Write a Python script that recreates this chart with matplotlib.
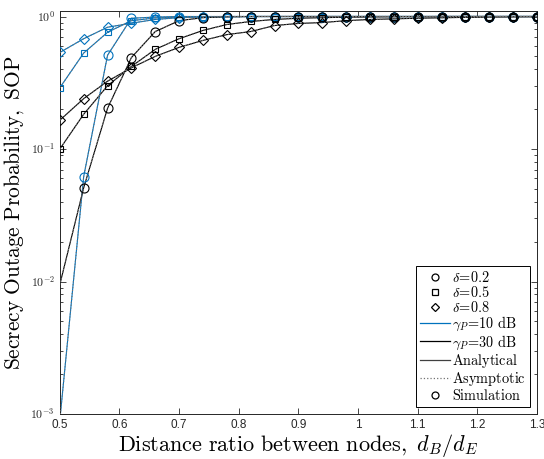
import numpy as np
import matplotlib
matplotlib.use("Agg")
import matplotlib.pyplot as plt
from matplotlib.lines import Line2D

plt.rcParams['mathtext.fontset'] = 'cm'
plt.rcParams['font.family'] = ['Liberation Sans', 'DejaVu Sans']

# distance ratio d_B/d_E
ratio = [0.50, 0.54, 0.58, 0.62, 0.66, 0.70, 0.74, 0.78, 0.82, 0.86, 0.90,
         0.94, 0.98, 1.02, 1.06, 1.10, 1.14, 1.18, 1.22, 1.26, 1.30]

# gamma_P = 10 dB (blue)
sop_10_d02 = [0.0009, 0.062, 0.51, 0.97, 0.99, 1.0, 1.0, 1.0, 1.0, 1.0, 1.0,
              1.0, 1.0, 1.0, 1.0, 1.0, 1.0, 1.0, 1.0, 1.0, 1.0]
sop_10_d05 = [0.29, 0.53, 0.76, 0.93, 0.975, 0.99, 0.997, 1.0, 1.0, 1.0, 1.0,
              1.0, 1.0, 1.0, 1.0, 1.0, 1.0, 1.0, 1.0, 1.0, 1.0]
sop_10_d08 = [0.535, 0.68, 0.83, 0.89, 0.95, 0.98, 0.99, 0.995, 1.0, 1.0, 1.0,
              1.0, 1.0, 1.0, 1.0, 1.0, 1.0, 1.0, 1.0, 1.0, 1.0]

# gamma_P = 30 dB (black)
sop_30_d02 = [0.0095, 0.051, 0.203, 0.49, 0.77, 0.93, 0.98, 0.995, 1.0, 1.0, 1.0,
              1.0, 1.0, 1.0, 1.0, 1.0, 1.0, 1.0, 1.0, 1.0, 1.0]
sop_30_d05 = [0.10, 0.183, 0.30, 0.42, 0.565, 0.68, 0.785, 0.87, 0.917, 0.95, 0.97,
              0.98, 0.988, 0.993, 0.996, 0.998, 1.0, 1.0, 1.0, 1.0, 1.0]
sop_30_d08 = [0.165, 0.24, 0.325, 0.41, 0.50, 0.585, 0.66, 0.73, 0.77, 0.855, 0.886,
              0.90, 0.93, 0.95, 0.96, 0.97, 0.978, 0.985, 0.99, 0.994, 0.997]

blue = '#0072BD'
# (values, colour, marker, first simulated point)
series = [
    (sop_10_d02, blue, 'o', 1), (sop_10_d05, blue, 's', 0), (sop_10_d08, blue, 'D', 0),
    (sop_30_d02, 'k', 'o', 1), (sop_30_d05, 'k', 's', 0), (sop_30_d08, 'k', 'D', 0),
]

fig = plt.figure(figsize=(5.44, 4.59), dpi=100)
ax = fig.add_axes([0.110, 0.098, 0.877, 0.878])

for vals, col, mk, start in series:
    ms = 6.5 if mk == 'o' else (4.3 if mk == 's' else 4.8)
    # analytical
    ax.plot(ratio, vals, '-', color=col, lw=0.8, zorder=2)
    # asymptotic
    ax.plot(ratio, vals, ':', color='0.45', lw=0.8, zorder=3)
    # simulation markers
    ax.plot(ratio[start:], vals[start:], linestyle='none', marker=mk, ms=ms,
            mfc='none', mec=col, mew=0.8, zorder=4)

ax.set_yscale('log')
ax.set_xlim(0.5, 1.3)
ax.set_ylim(1e-3, 1.1)
ax.set_xticks([0.5, 0.6, 0.7, 0.8, 0.9, 1.0, 1.1, 1.2, 1.3])
ax.set_xticklabels(['0.5', '0.6', '0.7', '0.8', '0.9', '1', '1.1', '1.2', '1.3'])
ax.set_yticks([1e-3, 1e-2, 1e-1, 1])
ax.set_yticklabels([r'$\mathsf{10^{-3}}$', r'$\mathsf{10^{-2}}$',
                    r'$\mathsf{10^{-1}}$', r'$\mathsf{10^{0}}$'])
ax.tick_params(which='both', direction='in', top=True, right=True,
               labelsize=8.5, colors='0.15', width=0.6)
ax.tick_params(which='major', length=4)
ax.tick_params(which='minor', length=2)
for s in ax.spines.values():
    s.set_linewidth(0.7)
    s.set_color('0.15')

ax.set_xlabel(r'$\mathrm{Distance\ ratio\ between\ nodes,}\ d_B/d_E$',
              fontsize=16, labelpad=1)
ax.set_ylabel(r'$\mathrm{Secrecy\ Outage\ Probability,\ SOP}$',
              fontsize=15.4, labelpad=3)

handles = [
    Line2D([], [], ls='none', marker='o', ms=5, mfc='none', mec='k', mew=0.9),
    Line2D([], [], ls='none', marker='s', ms=3.8, mfc='none', mec='k', mew=0.9),
    Line2D([], [], ls='none', marker='D', ms=4.3, mfc='none', mec='k', mew=0.9),
    Line2D([], [], color=blue, lw=0.9),
    Line2D([], [], color='k', lw=0.9),
    Line2D([], [], color='0.25', lw=0.9),
    Line2D([], [], color='0.45', lw=0.9, ls=':'),
    Line2D([], [], ls='none', marker='o', ms=5, mfc='none', mec='k', mew=0.9),
]
labels = [r'$\delta\!=\!0.2$', r'$\delta\!=\!0.5$', r'$\delta\!=\!0.8$',
          r'$\gamma_P\!=\!10\ \mathrm{dB}$', r'$\gamma_P\!=\!30\ \mathrm{dB}$',
          r'$\mathrm{Analytical}$', r'$\mathrm{Asymptotic}$', r'$\mathrm{Simulation}$']
leg = ax.legend(handles, labels, loc='lower right', fontsize=10.3,
                frameon=True, fancybox=False, edgecolor='k', framealpha=1,
                handlelength=2.1, handletextpad=0.1, labelspacing=0.0,
                borderpad=0.3, borderaxespad=0.5)
leg.get_frame().set_linewidth(0.7)

fig.savefig('out.png', dpi=100)
